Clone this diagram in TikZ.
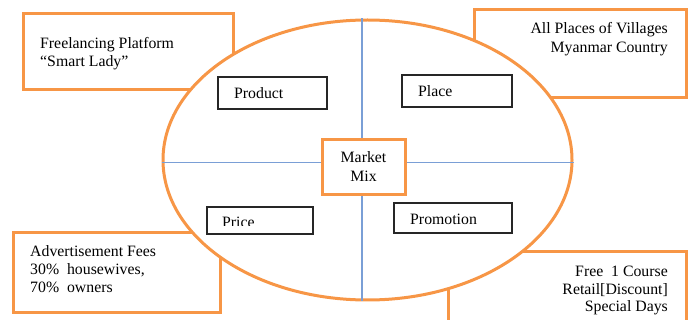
\documentclass[tikz,border=0pt]{standalone}
\usepackage{fontspec}
\setmainfont{Liberation Serif}
\usetikzlibrary{shapes.geometric}

\definecolor{mixorange}{HTML}{F79646}
\definecolor{mixblue}{HTML}{7A9FD6}

\tikzset{
  cornerbox/.style={rectangle, draw=mixorange, line width=3pt, fill=white,
    inner sep=0pt, outer sep=0pt},
  partbox/.style={rectangle, draw=black!85, line width=1.4pt, fill=white,
    inner sep=0pt, outer sep=0pt},
  mixtext/.style={font=\fontsize{15.8}{19}\selectfont, inner sep=0pt},
}

\begin{document}
\begin{tikzpicture}[x=1pt, y=-1pt]
\clip (0,0) rectangle (691,320);

% the four corner notes
\node[cornerbox, minimum width=210, minimum height=76] (freelance) at (128,52) {};
\node[cornerbox, minimum width=212, minimum height=88] (villages) at (580,54) {};
\node[cornerbox, minimum width=207, minimum height=80] (fees) at (116.5,273) {};
\node[cornerbox, minimum width=238, minimum height=88] (course) at (567,296) {};

% big ellipse split in four
\node[ellipse, draw=mixorange, line width=3pt, fill=white, inner sep=0pt,
  minimum width=409, minimum height=280] (mkt) at (367.5,160) {};
\coordinate (hub) at (362,162.5);
\draw[mixblue, line width=1.2pt] (hub) -- (hub |- mkt.north);
\draw[mixblue, line width=1.2pt] (hub) -- (hub |- mkt.south);
\draw[mixblue, line width=1.2pt] (hub) -- (hub -| mkt.west);
\draw[mixblue, line width=1.2pt] (hub) -- (hub -| mkt.east);

% the four P's and the middle
\node[partbox, minimum width=109, minimum height=32] (product) at (272.5,93) {};
\node[partbox, minimum width=110, minimum height=32] (place) at (457,91) {};
\node[partbox, minimum width=106, minimum height=27] (price) at (260,220.5) {};
\node[partbox, minimum width=118, minimum height=30] (promotion) at (453,218) {};
\node[cornerbox, mixtext, align=center, minimum width=83, minimum height=55]
  (mix) at (363.5,167) {Market\\Mix};

\node[mixtext, anchor=base west] (productT) at (234,99) {Product};
\node[mixtext, anchor=base west] (placeT) at (418,97) {Place};
\node[mixtext, anchor=base west] (promotionT) at (410,225) {Promotion};
\begin{scope}
  \clip (price.north west) rectangle (313,225.5);
  \node[mixtext, anchor=base west] (priceT) at (222,227.5) {Price};
\end{scope}

\node[mixtext, anchor=base west] (freelanceT1) at (40,49) {Freelancing Platform};
\node[mixtext, anchor=base west] (freelanceT2) at (40,67) {“Smart Lady”};
\node[mixtext, anchor=base east] (villagesT1) at (668,34) {All Places of Villages};
\node[mixtext, anchor=base east] (villagesT2) at (668,53) {Myanmar Country};
\node[mixtext, anchor=base west] (feesT1) at (30,257) {Advertisement Fees};
\node[mixtext, anchor=base west] (feesT2) at (30,275) {30\%\ \ housewives,};
\node[mixtext, anchor=base west] (feesT3) at (30,293) {70\%\ \ owners};
\node[mixtext, anchor=base east] (courseT1) at (668,277) {Free\ \ 1 Course};
\node[mixtext, anchor=base east] (courseT2) at (668,295) {Retail[Discount]};
\node[mixtext, anchor=base east] (courseT3) at (668,312) {Special Days};

\end{tikzpicture}
\end{document}
